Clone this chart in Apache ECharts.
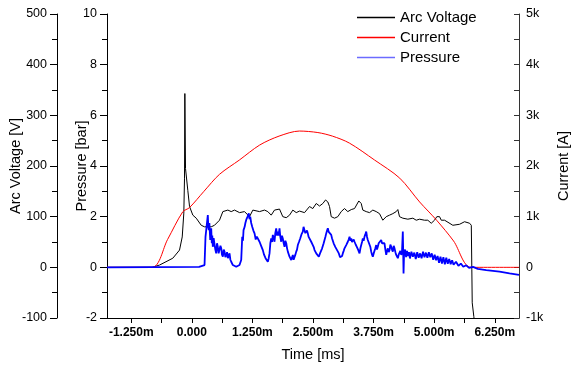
<!DOCTYPE html>
<html>
<head>
<meta charset="utf-8">
<script src="https://cdn.jsdelivr.net/npm/echarts@6/dist/echarts.min.js"></script>
<style>html,body{margin:0;padding:0;background:#fff}#c{width:576px;height:369px}</style>
</head>
<body>
<div id="c"></div>
<script>
// time in ms
const timeLabels = [-1.25, 0, 1.25, 2.5, 3.75, 5, 6.25];
const timeTicks = [-1.25, -0.625, 0, 0.625, 1.25, 1.875, 2.5, 3.125, 3.75, 4.375, 5, 5.625, 6.25];

// Arc voltage [V]  (t ms, V)
const arcVoltage = [
 [-1.75,0],[-0.82,0],[-0.666,4.5],[-0.392,18],[-0.254,34],[-0.198,60],[-0.165,107],[-0.151,176],[-0.144,343],
 [-0.130,195],[-0.103,192],[-0.083,152],[-0.047,120],[0.021,103],[0.091,97],[0.124,100],[0.194,83],[0.262,80],
 [0.297,80],[0.400,80],[0.468,83],[0.571,93],[0.640,110],[0.743,113],[0.813,110],[0.881,113],[0.984,108],
 [1.087,110],[1.190,100],[1.259,113],[1.294,116],[1.397,110],[1.500,113],[1.568,110],[1.638,103],[1.706,113],
 [1.809,115],[1.877,100],[1.948,98],[2.016,103],[2.084,113],[2.154,108],[2.222,111],[2.325,108],[2.428,120],
 [2.496,116],[2.567,126],[2.635,121],[2.703,126],[2.759,133],[2.806,129],[2.841,120],[2.876,100],[2.944,97],
 [3.012,100],[3.082,110],[3.150,116],[3.218,110],[3.289,114],[3.357,116],[3.445,131],[3.495,126],[3.528,113],
 [3.598,110],[3.666,108],[3.734,113],[3.804,110],[3.872,106],[3.940,93],[4.011,100],[4.079,103],[4.147,106],
 [4.217,110],[4.250,114],[4.285,100],[4.353,97],[4.457,95],[4.560,97],[4.630,93],[4.698,95],[4.801,93],
 [4.869,93],[4.939,87],[5.007,93],[5.055,100],[5.111,100],[5.146,93],[5.215,93],[5.250,90],[5.385,83],
 [5.524,85],[5.627,90],[5.731,87],[5.766,83],[5.777,-5],[5.785,-70],[5.818,-97],[5.853,-125]
];

// Current [A]
const current = [
 [-1.75,0],[-0.817,0],[-0.5,550],[-0.186,1097],[-0.05,1177],[0.25,1500],[0.57,1835],[0.98,2117],[1.40,2414],
 [1.8,2590],[2.22,2690],[2.6,2660],[2.9,2590],[3.25,2453],[3.77,2118],[4.29,1760],[4.7,1290],[5.05,930],
 [5.4,520],[5.76,0],[6.75,0]
];

// Pressure [bar]
const pressure = [
 [-1.75,0],[0.15,0.02],[0.262,0.09],[0.282,1.2],[0.330,2.06],[0.340,1.60],[0.351,1.47],[0.362,1.75],[0.380,1.08],
 [0.390,1.30],[0.400,1.54],[0.412,0.95],[0.422,1.25],[0.433,0.81],[0.450,1.15],[0.468,1.08],[0.485,0.70],
 [0.503,0.55],[0.520,0.95],[0.536,0.81],[0.553,0.55],[0.571,0.62],[0.590,0.85],[0.607,0.75],[0.622,0.50],
 [0.640,0.42],[0.658,0.70],[0.675,0.62],[0.692,0.40],[0.710,0.49],[0.727,0.60],[0.743,0.36],[0.760,0.45],
 [0.778,0.55],[0.795,0.30],[0.813,0.22],[0.830,0.15],[0.846,0.09],[0.880,0.05],[0.916,0.02],[0.950,0.08],
 [0.984,0.09],[1.019,0.29],[1.040,1.21],[1.055,1.05],[1.067,1.47],[1.090,1.60],[1.105,1.75],[1.122,1.87],
 [1.150,2.00],[1.176,2.13],[1.190,1.90],[1.205,2.0],[1.225,1.75],[1.246,1.6],[1.270,1.45],[1.294,1.34],
 [1.318,1.10],[1.341,1.21],[1.370,1.15],[1.397,1.01],[1.430,0.85],[1.465,0.68],[1.490,0.50],[1.521,0.36],
 [1.545,0.30],[1.568,0.22],[1.585,0.35],[1.603,0.55],[1.620,0.95],[1.638,1.14],[1.655,1.00],[1.671,1.28],
 [1.690,1.15],[1.706,1.01],[1.722,1.35],[1.741,1.54],[1.758,1.25],[1.774,1.41],[1.790,1.25],[1.809,1.54],
 [1.826,1.20],[1.844,1.01],[1.860,1.25],[1.877,1.14],[1.895,0.95],[1.913,0.81],[1.930,1.05],[1.948,0.95],
 [1.965,0.75],[1.981,0.62],[2.000,0.55],[2.016,0.42],[2.034,0.35],[2.051,0.29],[2.068,0.40],[2.084,0.49],
 [2.100,0.30],[2.119,0.36],[2.136,0.50],[2.154,0.62],[2.170,0.70],[2.187,0.88],[2.210,1.00],[2.236,1.14],
 [2.262,1.30],[2.290,1.41],[2.305,1.60],[2.325,1.54],[2.342,1.35],[2.360,1.28],[2.376,1.45],[2.393,1.34],
 [2.410,1.20],[2.428,1.14],[2.445,1.25],[2.463,1.01],[2.480,1.05],[2.496,0.88],[2.515,0.80],[2.532,0.68],
 [2.550,0.70],[2.567,0.55],[2.595,0.50],[2.620,0.42],[2.645,0.55],[2.670,0.62],[2.688,0.75],[2.703,0.81],
 [2.720,0.95],[2.738,1.08],[2.755,1.20],[2.773,1.34],[2.790,1.45],[2.806,1.54],[2.824,1.40],[2.841,1.47],
 [2.858,1.35],[2.876,1.28],[2.892,1.15],[2.909,1.08],[2.926,0.95],[2.944,0.88],[2.962,0.80],[2.979,0.75],
 [3.005,0.65],[3.033,0.55],[3.058,0.40],[3.082,0.36],[3.100,0.45],[3.115,0.55],[3.133,0.65],[3.150,0.75],
 [3.168,0.80],[3.185,0.88],[3.200,0.95],[3.218,1.01],[3.236,1.10],[3.254,1.21],[3.272,1.05],[3.289,1.14],
 [3.305,1.00],[3.322,0.95],[3.340,1.10],[3.357,1.01],[3.380,0.90],[3.404,0.81],[3.430,0.70],[3.460,0.55],
 [3.478,0.75],[3.495,0.88],[3.512,1.00],[3.528,1.14],[3.545,1.05],[3.563,1.21],[3.580,1.30],[3.598,1.41],
 [3.615,1.20],[3.631,1.08],[3.648,1.15],[3.666,1.01],[3.684,0.80],[3.701,0.62],[3.718,0.50],[3.734,0.42],
 [3.752,0.55],[3.769,0.62],[3.786,0.75],[3.804,0.88],[3.820,0.70],[3.837,0.81],[3.855,0.95],[3.872,1.01],
 [3.890,0.90],[3.907,1.08],[3.924,0.95],[3.940,0.88],[3.958,1.00],[3.975,0.95],[3.993,0.70],[4.011,0.49],
 [4.028,0.65],[4.044,0.75],[4.062,0.60],[4.079,0.68],[4.096,0.90],[4.114,0.81],[4.130,0.70],[4.147,0.62],
 [4.165,0.85],[4.182,0.75],[4.200,0.60],[4.217,0.49],[4.233,0.45],[4.250,0.36],[4.268,0.50],[4.285,0.55],
 [4.302,0.65],[4.320,0.49],[4.336,0.60],[4.353,1.41],[4.360,0.70],[4.368,-0.24],[4.378,0.50],[4.389,0.62],
 [4.40,0.70],[4.42,0.40],[4.44,0.65],[4.46,0.45],[4.48,0.60],[4.50,0.35],
 [4.53,0.62],[4.56,0.42],[4.59,0.58],[4.62,0.33],[4.65,0.60],[4.68,0.38],[4.71,0.55],[4.74,0.36],[4.77,0.62],
 [4.80,0.40],[4.83,0.58],[4.86,0.38],[4.89,0.60],[4.92,0.40],[4.95,0.55],[4.98,0.30],[5.01,0.50],[5.04,0.28],
 [5.07,0.45],[5.10,0.18],[5.13,0.42],[5.16,0.15],[5.19,0.40],[5.22,0.12],[5.25,0.38],[5.28,0.14],[5.31,0.33],
 [5.34,0.12],[5.37,0.28],[5.40,0.10],[5.45,0.22],[5.50,0.06],[5.55,0.15],[5.60,0.02],[5.66,0.08],[5.72,-0.02],
 [5.80,0.02],[5.90,-0.06],[6.074,-0.11],[6.348,-0.17],[6.555,-0.24],[6.75,-0.30]
];

const FONT = 'Liberation Sans, Arial, sans-serif';
const chart = echarts.init(document.getElementById('c'), null, {renderer: 'canvas'});
const axisCommon = {
  splitLine: {show: false},
  axisLine: {show: true, onZero: false, lineStyle: {color: '#000', width: 1}},
  axisTick: {show: true, length: 7, lineStyle: {color: '#000'}},
  minorTick: {show: true, splitNumber: 2, length: 5, lineStyle: {color: '#000'}},
  axisLabel: {color: '#000', fontSize: 12.5, fontFamily: FONT, margin: 10},
  nameLocation: 'middle',
  nameMoveOverlap: false,
  nameTextStyle: {color: '#000', fontSize: 14.5, fontFamily: FONT}
};
chart.setOption({
  animation: false,
  backgroundColor: '#fff',
  grid: {left: 107, right: 57, top: 14, bottom: 51, containLabel: false, outerBoundsMode: 'none'},
  legend: {
    orient: 'vertical', left: 352, top: 5, itemWidth: 38, itemHeight: 1.5, itemGap: 5, icon: 'rect',
    textStyle: {fontSize: 15, fontFamily: FONT, color: '#000'},
    data: ['Arc Voltage', 'Current', {name: 'Pressure', itemStyle: {color: '#6b6bff'}}]
  },
  xAxis: {
    type: 'value', min: -1.75, max: 6.75,
    name: 'Time [ms]', nameLocation: 'middle', nameGap: 29, nameMoveOverlap: false,
    nameTextStyle: {color: '#000', fontSize: 14.5, fontFamily: FONT},
    splitLine: {show: false},
    axisLine: {show: true, onZero: false, lineStyle: {color: '#000'}},
    axisTick: {show: true, length: 5, customValues: timeTicks, lineStyle: {color: '#000'}},
    axisLabel: {
      color: '#000', fontSize: 12, fontWeight: 'bold', fontFamily: FONT, margin: 9,
      customValues: timeLabels,
      formatter: v => v === 0 ? '0.000' : v.toFixed(3) + 'm'
    }
  },
  yAxis: [
    Object.assign({}, axisCommon, {
      type: 'value', position: 'left', min: -2, max: 10, interval: 2,
      name: 'Pressure [bar]', nameGap: 18
    }),
    Object.assign({}, axisCommon, {
      type: 'value', position: 'left', offset: 50, min: -100, max: 500, interval: 100,
      name: 'Arc Voltage [V]', nameGap: 34
    }),
    Object.assign({}, axisCommon, {
      type: 'value', position: 'right', min: -1000, max: 5000, interval: 1000,
      name: 'Current [A]', nameGap: 37,
      axisLine: {show: true, onZero: false, lineStyle: {color: '#333'}},
      axisTick: {show: true, inside: true, length: 5, lineStyle: {color: '#333'}},
      minorTick: {show: true, splitNumber: 2, length: 5, lineStyle: {color: '#333'}},
      axisLabel: {color: '#000', fontSize: 12.5, fontFamily: FONT, margin: 7,
        formatter: v => v === 0 ? '0' : (v / 1000) + 'k'}
    })
  ],
  series: [
    {name: 'Arc Voltage', type: 'line', yAxisIndex: 1, data: arcVoltage, showSymbol: false, symbol: 'none',
     lineStyle: {color: '#000', width: 1}, itemStyle: {color: '#000'}},
    {name: 'Current', type: 'line', yAxisIndex: 2, data: current, showSymbol: false, symbol: 'none', smooth: 0.3,
     lineStyle: {color: '#ff0000', width: 1}, itemStyle: {color: '#ff0000'}},
    {name: 'Pressure', type: 'line', yAxisIndex: 0, data: pressure, showSymbol: false, symbol: 'none',
     lineStyle: {color: '#0000ff', width: 1.8}, itemStyle: {color: '#0000ff'}}
  ]
});
</script>
</body>
</html>
